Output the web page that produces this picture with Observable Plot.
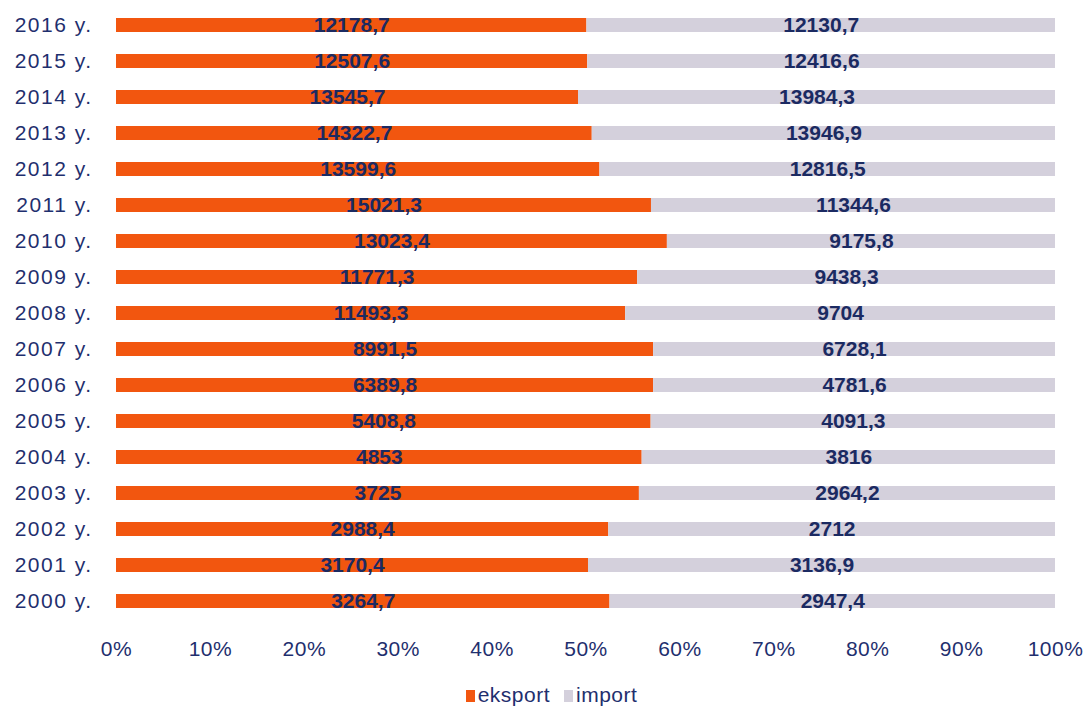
<!DOCTYPE html>
<html>
<head>
<meta charset="utf-8">
<script src="https://cdn.jsdelivr.net/npm/d3@7"></script>
<script src="https://cdn.jsdelivr.net/npm/@observablehq/plot@0.6"></script>
<style>
  body { margin: 0; background: #fff; font-family: "Liberation Sans", Arial, sans-serif; }
  #chart { width: 1089px; }
  .legend { display: flex; justify-content: center; gap: 14px; font-size: 21px; letter-spacing: 0.5px; color: #1f2f6e; margin-top: 8px; padding-left: 14px; }
  .legend span.sw { display: inline-block; width: 9px; height: 12px; margin-right: 3px; vertical-align: 0px; }
  #chart svg g[aria-label="y-axis tick label"] text { letter-spacing: 1.5px; }
  #chart svg g[aria-label="x-axis tick label"] text { letter-spacing: 0.5px; }
</style>
</head>
<body>
<div id="chart"></div>
<script>
const years = ["2016 y.","2015 y.","2014 y.","2013 y.","2012 y.","2011 y.","2010 y.","2009 y.","2008 y.","2007 y.","2006 y.","2005 y.","2004 y.","2003 y.","2002 y.","2001 y.","2000 y."];
const exportVals = [12178.7, 12507.6, 13545.7, 14322.7, 13599.6, 15021.3, 13023.4, 11771.3, 11493.3, 8991.5, 6389.8, 5408.8, 4853, 3725, 2988.4, 3170.4, 3264.7];
const importVals = [12130.7, 12416.6, 13984.3, 13946.9, 12816.5, 11344.6, 9175.8, 9438.3, 9704, 6728.1, 4781.6, 4091.3, 3816, 2964.2, 2712, 3136.9, 2947.4];
const seriesNames = ["eksport", "import"];
const seriesColors = ["#f2560f", "#d4d0dc"];
const xTicks = [0,0.1,0.2,0.3,0.4,0.5,0.6,0.7,0.8,0.9,1];

const rows = [];
years.forEach((y, i) => {
  rows.push({year: y, type: seriesNames[0], value: exportVals[i]});
  rows.push({year: y, type: seriesNames[1], value: importVals[i]});
});
const fmt = v => String(v).replace(".", ",");

const navy = "#1f2f6e";
const chart = Plot.plot({
  width: 1089,
  height: 675,
  marginLeft: 116,
  marginRight: 34,
  marginTop: 7,
  marginBottom: 56,
  style: {fontFamily: "'Liberation Sans', Arial, sans-serif", fontSize: "21px", color: navy, background: "#fff"},
  x: {domain: [0, 1], ticks: xTicks, tickFormat: d => Math.round(d * 100) + "%", tickSize: 0, tickPadding: 22, label: null},
  y: {domain: years, paddingInner: 0.62, paddingOuter: 0.31, tickSize: 0, tickPadding: 24, label: null},
  color: {domain: seriesNames, range: seriesColors},
  marks: [
    Plot.barX(rows, Plot.stackX({offset: "normalize", x: "value", y: "year", z: "type", fill: "type", order: null})),
    Plot.text(rows, Plot.stackX({offset: "normalize", x: "value", y: "year", z: "type", order: null, text: d => fmt(d.value), fill: "#1b2a62", fontSize: 21, fontWeight: "bold", letterSpacing: "1px"}))
  ]
});
document.getElementById("chart").appendChild(chart);

const legend = document.createElement("div");
legend.className = "legend";
seriesNames.forEach((n, i) => {
  const item = document.createElement("div");
  item.innerHTML = `<span class="sw" style="background:${seriesColors[i]}"></span>${n}`;
  legend.appendChild(item);
});
document.getElementById("chart").appendChild(legend);
</script>
</body>
</html>
